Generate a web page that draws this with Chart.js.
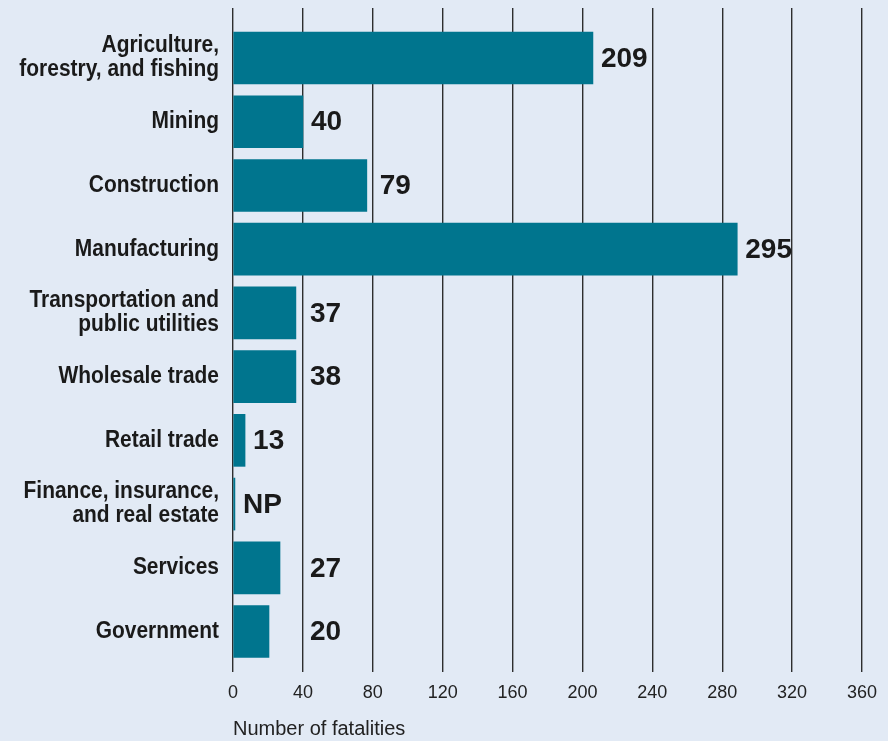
<!DOCTYPE html>
<html>
<head>
<meta charset="utf-8">
<script src="https://cdn.jsdelivr.net/npm/chart.js@4/dist/chart.umd.min.js"></script>
<style>
  html, body { margin: 0; padding: 0; background: #e2eaf5; }
  #wrap { width: 888px; height: 741px; }
</style>
</head>
<body>
<div id="wrap"><canvas id="fatalChart" width="888" height="741"></canvas></div>
<script>
// Categories (top to bottom)
const industries = [
    ['Agriculture,', 'forestry, and fishing'],
    ['Mining'],
    ['Construction'],
    ['Manufacturing'],
    ['Transportation and', 'public utilities'],
    ['Wholesale trade'],
    ['Retail trade'],
    ['Finance, insurance,', 'and real estate'],
    ['Services'],
    ['Government']
];
// Bar lengths as drawn in the picture
const barValues = [206, 40, 76.6, 288.6, 36, 36, 6.9, 1.1, 26.9, 20.6];
// Printed value labels
const valueLabels = ['209', '40', '79', '295', '37', '38', '13', 'NP', '27', '20'];
// X axis ticks
const xTicks = [0, 40, 80, 120, 160, 200, 240, 280, 320, 360];

const barColor = '#00758e';
const textColor = '#1a1a1a';
const gridColor = '#2e2e2e';

// Condensed bold category names, placed on the y scale's tick positions
const categoryLabelPlugin = {
    id: 'categoryLabels',
    afterDraw(chart) {
        const ctx = chart.ctx;
        const yScale = chart.scales.y;
        const right = chart.chartArea.left - 14;
        const squeeze = 0.91;
        const lineH = 24;
        ctx.save();
        ctx.font = 'bold 23px "Liberation Sans", Arial, sans-serif';
        ctx.fillStyle = textColor;
        ctx.textAlign = 'right';
        ctx.textBaseline = 'middle';
        industries.forEach((lines, i) => {
            const cy = yScale.getPixelForValue(i);
            lines.forEach((line, j) => {
                const y = cy + (j - (lines.length - 1) / 2) * lineH;
                ctx.save();
                ctx.translate(right, y);
                ctx.scale(squeeze, 1);
                ctx.fillText(line, 0, 0);
                ctx.restore();
            });
        });
        ctx.restore();
    }
};

// Draws the numbers after each bar, nudging them off a grid line
const valueLabelPlugin = {
    id: 'valueLabels',
    afterDatasetsDraw(chart) {
        const ctx = chart.ctx;
        const xScale = chart.scales.x;
        const gridXs = xTicks.map(t => xScale.getPixelForValue(t));
        const bars = chart.getDatasetMeta(0).data;
        ctx.save();
        ctx.font = 'bold 28px "Liberation Sans", Arial, sans-serif';
        ctx.fillStyle = textColor;
        ctx.textAlign = 'left';
        ctx.textBaseline = 'middle';
        bars.forEach((bar, i) => {
            const text = valueLabels[i];
            const w = ctx.measureText(text).width;
            let start = bar.x + 8;
            const hit = gridXs.find(g => g >= start - 4 && g <= start + w + 6);
            if (hit !== undefined && hit + 7 - start < 40) {
                start = hit + 7;
            }
            ctx.fillText(text, start, bar.y + 1);
        });
        ctx.restore();
    }
};

const ctx = document.getElementById('fatalChart').getContext('2d');

new Chart(ctx, {
    type: 'bar',
    data: {
        datasets: [{
            data: barValues.map((v, i) => ({ x: v, y: i })),
            backgroundColor: barColor,
            borderWidth: 0,
            barThickness: 52
        }]
    },
    options: {
        indexAxis: 'y',
        responsive: false,
        animation: false,
        layout: { padding: { top: 8, right: 26, left: 0, bottom: 0 } },
        plugins: {
            legend: { display: false },
            tooltip: { enabled: false }
        },
        scales: {
            x: {
                type: 'linear',
                position: 'bottom',
                min: 0,
                max: 360,
                afterBuildTicks: (scale) => {
                    scale.ticks = xTicks.map(v => ({ value: v }));
                },
                afterFit: (scale) => {
                    scale.height = 78;
                    scale.paddingLeft = 0;
                    scale.paddingRight = 0;
                },
                border: { display: false },
                grid: {
                    color: gridColor,
                    lineWidth: 1.4,
                    drawTicks: true,
                    tickLength: 9
                },
                ticks: {
                    autoSkip: false,
                    maxRotation: 0,
                    padding: 10,
                    color: '#222',
                    font: { family: '"Liberation Sans", Arial, sans-serif', size: 18 }
                },
                title: {
                    display: true,
                    text: 'Number of fatalities',
                    align: 'start',
                    color: '#222',
                    padding: { top: 0, bottom: 0 },
                    font: { family: '"Liberation Sans", Arial, sans-serif', size: 20 }
                }
            },
            y: {
                type: 'linear',
                reverse: true,
                offset: false,
                bounds: 'data',
                min: -0.785,
                max: 9.494,
                afterBuildTicks: (scale) => {
                    scale.ticks = industries.map((_, i) => ({ value: i }));
                },
                afterFit: (scale) => {
                    scale.width = 233;
                    scale.paddingTop = 0;
                    scale.paddingBottom = 0;
                },
                border: { display: false },
                grid: { display: false, drawTicks: false },
                ticks: { display: false }
            }
        }
    },
    plugins: [categoryLabelPlugin, valueLabelPlugin]
});
</script>
</body>
</html>
